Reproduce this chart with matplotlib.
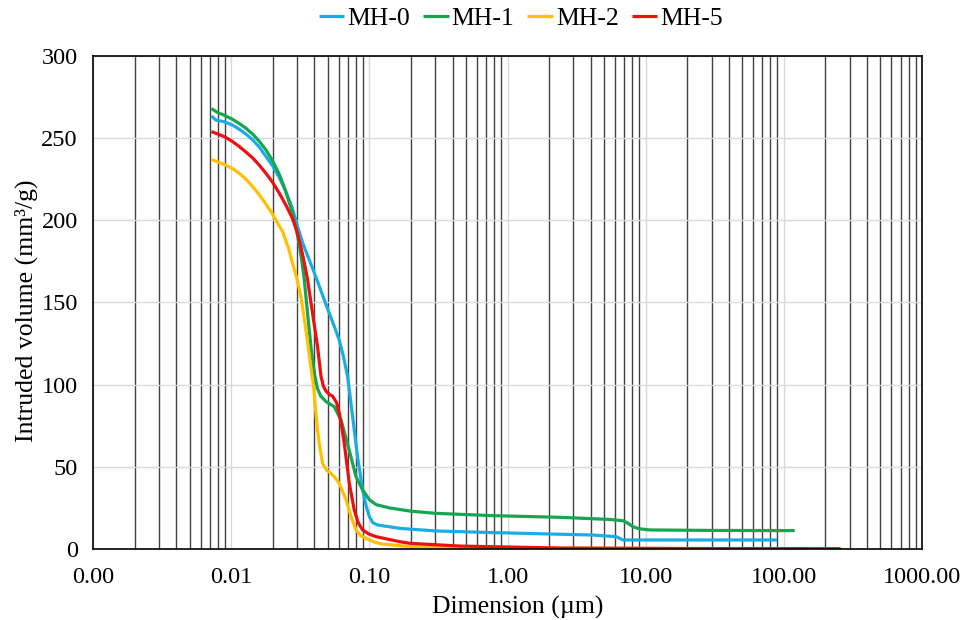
"""
Curvas de intrusión de mercurio (volumen intrudido vs. dimensión de poro).
"""
import matplotlib
matplotlib.use("Agg")
import matplotlib.pyplot as plt
from matplotlib.ticker import FixedLocator, FuncFormatter, LogLocator, NullFormatter

plt.rcParams["font.family"] = ["Liberation Serif", "DejaVu Serif"]

# datos (x en µm, y en mm³/g)
mh0_x = [0.0072, 0.00775, 0.0089, 0.0102, 0.0114, 0.0128, 0.0143, 0.016, 0.0178,
         0.020, 0.0223, 0.025, 0.0278, 0.030, 0.033, 0.0367, 0.040, 0.0434, 0.047,
         0.0513, 0.056, 0.0606, 0.065, 0.0696, 0.0757, 0.0822, 0.0894, 0.095, 0.1,
         0.106, 0.1149, 0.165, 0.3, 0.78, 4.15, 6.13, 6.85, 12.6, 89.4]
mh0_y = [263.5, 261, 260, 258, 255.5, 252.5, 249, 244.5, 239,
         233, 226, 217, 207, 197, 186, 176, 168, 160, 152,
         143.5, 135, 127, 117, 105, 80.5, 56, 36, 26, 19.7,
         16, 14.6, 12.6, 11, 10, 8.5, 7.5, 5.5, 5.5, 5.5]

mh1_x = [0.0072, 0.0080, 0.0089, 0.0102, 0.0114, 0.0128, 0.0143, 0.016, 0.0178,
         0.020, 0.0223, 0.0245, 0.027, 0.029, 0.031, 0.0325, 0.0338, 0.0357, 0.0378,
         0.040, 0.042, 0.0445, 0.0486, 0.0557, 0.0624, 0.0716, 0.0801, 0.0894, 0.1,
         0.112, 0.14, 0.2, 0.304, 0.78, 2.38, 5.48, 6.85, 7.5, 8.09, 9.0, 10.7,
         30.7, 120]
mh1_y = [268, 265.5, 264, 261.5, 259, 256, 252.5, 248, 243,
         236, 228, 219, 208, 198, 186, 175, 164, 143.5, 123,
         107, 98, 93, 89.7, 86.6, 78.5, 60, 44, 36, 30,
         27, 25, 23, 21.7, 20.3, 19.3, 18, 17.2, 15.5, 13.6, 12.3, 11.6,
         11.3, 11.2]

mh2_x = [0.0072, 0.0089, 0.0102, 0.0114, 0.0128, 0.0143, 0.016, 0.0178, 0.0195,
         0.0211, 0.0236, 0.026, 0.0278, 0.030, 0.032, 0.0348, 0.0365, 0.0378, 0.0395,
         0.0406, 0.042, 0.0434, 0.0459, 0.049, 0.0528, 0.057, 0.0606, 0.064, 0.0678,
         0.0737, 0.0801, 0.087, 0.0946, 0.11, 0.1248, 0.195, 0.45, 2.0, 60]
mh2_y = [237, 234, 231.5, 228.7, 225, 220.5, 215.5, 210, 205,
         200, 193, 183, 174, 164, 153.5, 133, 120, 110, 99,
         86.6, 74, 64, 52, 48, 46, 43, 40, 35, 30,
         19.7, 11.6, 8, 6.5, 4, 3, 1.5, 0.8, 0.4, 0.2]

mh5_x = [0.0072, 0.0089, 0.0102, 0.0114, 0.0128, 0.0143, 0.016, 0.0178, 0.020,
         0.0223, 0.025, 0.0278, 0.030, 0.0315, 0.0335, 0.0357, 0.0388, 0.0422, 0.0447,
         0.0465, 0.0486, 0.0515, 0.0542, 0.058, 0.0606, 0.0635, 0.0659, 0.0716, 0.0778,
         0.083, 0.0894, 0.1, 0.1119, 0.165, 0.195, 0.449, 2.38, 20, 257]
mh5_y = [254, 251, 248, 245, 241.5, 238, 233.5, 228.7, 223,
         216.5, 209, 201, 193, 186, 176, 164, 143.5, 123, 105,
         99, 96, 94, 93, 89, 82.6, 73, 64, 40, 23.7,
         16, 11.6, 9, 7.5, 4.5, 3.5, 1.8, 0.6, 0.3, 0.2]

series = [
    ("MH-0", mh0_x, mh0_y, "#1AADE4"),
    ("MH-1", mh1_x, mh1_y, "#16A550"),
    ("MH-2", mh2_x, mh2_y, "#FFC000"),
    ("MH-5", mh5_x, mh5_y, "#EE1010"),
]

fig = plt.figure(figsize=(9.62, 6.2), dpi=100)
ax = fig.add_axes([0.0967, 0.1145, 0.8617, 0.7952])

for nombre, xs, ys, color in series:
    ax.plot(xs, ys, color=color, linewidth=2.3, label=nombre,
            solid_joinstyle="round", solid_capstyle="butt")

ax.set_xscale("log")
ax.set_xlim(0.001, 1000)
ax.set_ylim(0, 300)
ax.set_yticks([0, 50, 100, 150, 200, 250, 300])
ax.xaxis.set_major_locator(FixedLocator([0.001, 0.01, 0.1, 1, 10, 100, 1000]))
ax.xaxis.set_major_formatter(FuncFormatter(lambda v, p: f"{v:.2f}"))
ax.xaxis.set_minor_locator(LogLocator(base=10, subs=range(2, 10), numticks=20))
ax.xaxis.set_minor_formatter(NullFormatter())

ax.grid(True, which="major", axis="both", color="#D9D9D9", linewidth=1)
ax.grid(True, which="minor", axis="x", color="#404040", linewidth=1)
ax.set_axisbelow(True)

ax.tick_params(which="both", length=0, labelsize=17.5)
ax.tick_params(axis="x", pad=13)
ax.tick_params(axis="y", pad=11)
for lado in ax.spines.values():
    lado.set_color("black")
    lado.set_linewidth(1.2)

ax.set_xlabel("Dimension (µm)", fontsize=18.5)
ax.set_ylabel("Intruded volume (mm³/g)", fontsize=18.5)
ax.xaxis.set_label_coords(0.512, -0.095)
ax.yaxis.set_label_coords(-0.066, 0.483)

ax.legend(loc="center", bbox_to_anchor=(0.516, 1.077), ncol=4, frameon=False,
          fontsize=18.5, handlelength=1.0, handletextpad=0.12, columnspacing=0.5,
          borderaxespad=0)

fig.savefig("out.png", dpi=100)
plt.close(fig)
